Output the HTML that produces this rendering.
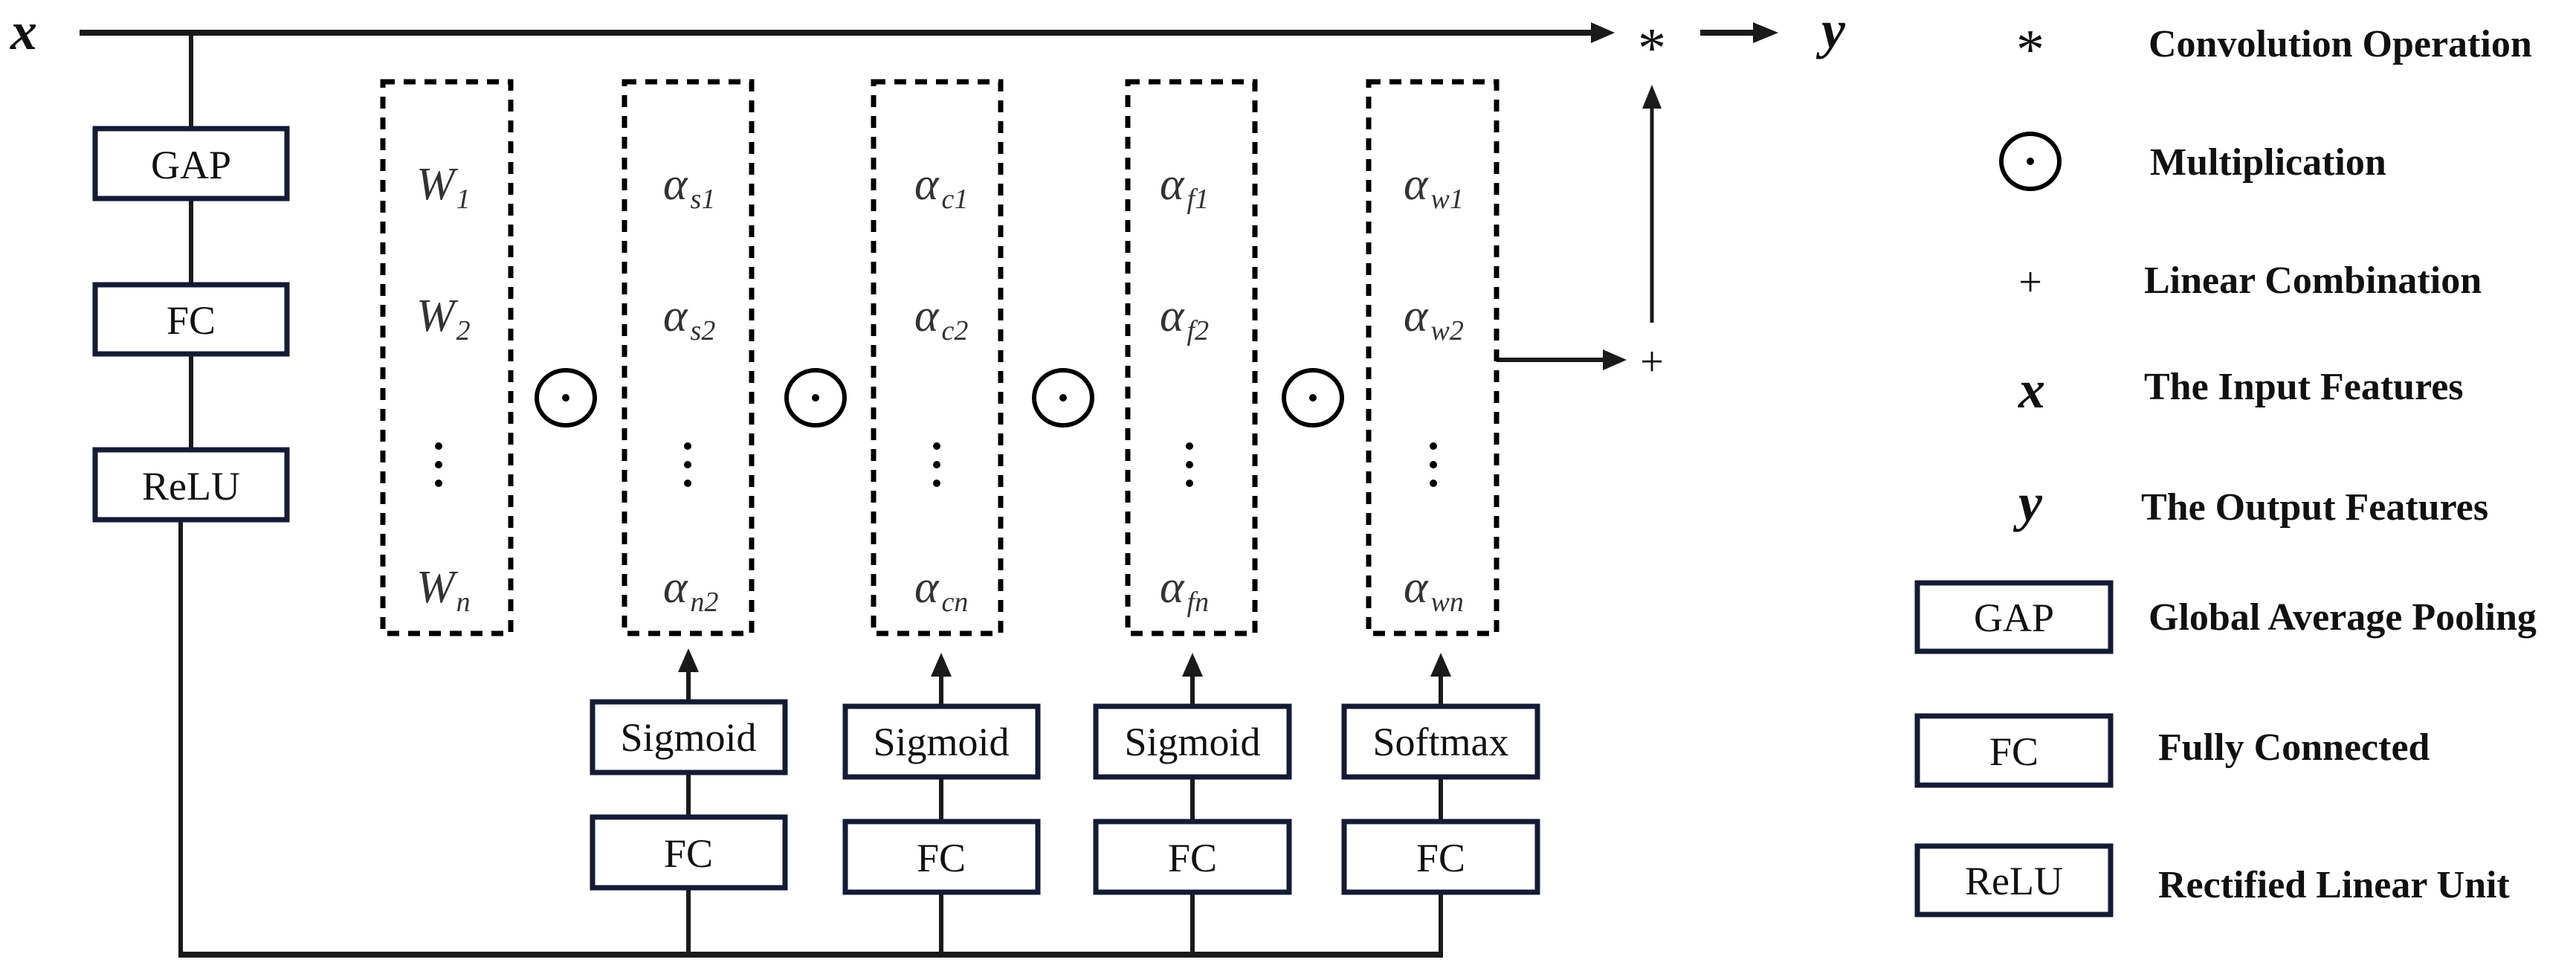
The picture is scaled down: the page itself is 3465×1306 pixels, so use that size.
<!DOCTYPE html>
<html><head><meta charset="utf-8"><style>
html,body{margin:0;padding:0;background:#fff;}
svg{display:block;}
.bx{font-family:"Liberation Serif",serif;font-size:54px;fill:#111;}
.lg{font-family:"Liberation Serif",serif;font-weight:bold;font-size:52px;fill:#111;}
.al{font-family:"Liberation Serif",serif;font-style:italic;font-size:62px;fill:#333;}
.sb{font-size:38px;}
</style></head><body>
<svg width="3465" height="1306" viewBox="0 0 3465 1306" xmlns="http://www.w3.org/2000/svg">
<defs>
<marker id="ah" markerWidth="10" markerHeight="10" refX="9" refY="5" orient="auto" markerUnits="userSpaceOnUse" viewBox="0 0 10 10">
</marker>
</defs>
<g stroke="#1a1a1a" fill="none">
<!-- top line x -->
<line x1="107" y1="44" x2="2140" y2="44" stroke-width="8"/>
<polygon points="2140,30 2172,44 2140,58" fill="#1a1a1a" stroke="none"/>
<line x1="2287" y1="44" x2="2360" y2="44" stroke-width="8"/>
<polygon points="2358,30 2392,44 2358,58" fill="#1a1a1a" stroke="none"/>
<!-- left chain -->
<line x1="257" y1="44" x2="257" y2="604" stroke-width="6"/>
<line x1="243" y1="699" x2="243" y2="1286" stroke-width="6"/>
<line x1="240" y1="1284" x2="1941" y2="1284" stroke-width="8"/>
<!-- branches -->
<line x1="926" y1="1284" x2="926" y2="1040" stroke-width="6"/>
<line x1="926" y1="900" x2="926" y2="943" stroke-width="6"/>
<polygon points="912,904 926,872 940,904" fill="#1a1a1a" stroke="none"/>
<line x1="1266" y1="1284" x2="1266" y2="1045" stroke-width="6"/>
<line x1="1266" y1="905" x2="1266" y2="949" stroke-width="6"/>
<polygon points="1252,910 1266,878 1280,910" fill="#1a1a1a" stroke="none"/>
<line x1="1604" y1="1284" x2="1604" y2="1045" stroke-width="6"/>
<line x1="1604" y1="905" x2="1604" y2="949" stroke-width="6"/>
<polygon points="1590,910 1604,878 1618,910" fill="#1a1a1a" stroke="none"/>
<line x1="1938" y1="1284" x2="1938" y2="1045" stroke-width="6"/>
<line x1="1938" y1="905" x2="1938" y2="949" stroke-width="6"/>
<polygon points="1924,910 1938,878 1952,910" fill="#1a1a1a" stroke="none"/>
<!-- plus arrows -->
<line x1="2013" y1="484" x2="2160" y2="484" stroke-width="6"/>
<polygon points="2156,470 2188,484 2156,498" fill="#1a1a1a" stroke="none"/>
<line x1="2222" y1="434" x2="2222" y2="140" stroke-width="5"/>
<polygon points="2209,146 2222,114 2235,146" fill="#1a1a1a" stroke="none"/>
<!-- dashed boxes -->
<g stroke="#000" stroke-width="7" stroke-dasharray="16,12">
<rect x="515" y="110" width="172" height="742"/>
<rect x="840" y="110" width="171" height="742"/>
<rect x="1175" y="110" width="171" height="742"/>
<rect x="1517" y="110" width="171" height="742"/>
<rect x="1841" y="110" width="172" height="742"/>
</g>
<!-- odots -->
<g stroke="#000" stroke-width="6">
<ellipse cx="761" cy="535" rx="39" ry="37"/>
<ellipse cx="1097" cy="535" rx="39" ry="37"/>
<ellipse cx="1430" cy="535" rx="39" ry="37"/>
<ellipse cx="1766" cy="535" rx="39" ry="37"/>
<ellipse cx="2731" cy="217" rx="39" ry="37"/>
</g>
<!-- solid boxes -->
<g stroke="#151a35" stroke-width="7" fill="#fff">
<rect x="128" y="173" width="258" height="94"/>
<rect x="128" y="383" width="258" height="93"/>
<rect x="128" y="605" width="258" height="94"/>
<rect x="797" y="944" width="259" height="95"/>
<rect x="797" y="1099" width="259" height="95"/>
<rect x="1137" y="950" width="259" height="95"/>
<rect x="1137" y="1105" width="259" height="95"/>
<rect x="1474" y="950" width="260" height="95"/>
<rect x="1474" y="1105" width="260" height="95"/>
<rect x="1808" y="950" width="260" height="95"/>
<rect x="1808" y="1105" width="260" height="95"/>
<rect x="2579" y="784" width="260" height="92"/>
<rect x="2579" y="963" width="260" height="93"/>
<rect x="2579" y="1138" width="260" height="92"/>
</g>
</g>
<g fill="#000">
<circle cx="761" cy="535" r="5"/><circle cx="1097" cy="535" r="5"/><circle cx="1430" cy="535" r="5"/><circle cx="1766" cy="535" r="5"/><circle cx="2731" cy="217" r="5"/>
<circle cx="590" cy="600" r="5"/><circle cx="590" cy="625" r="5"/><circle cx="590" cy="650" r="5"/>
<circle cx="925" cy="600" r="5"/><circle cx="925" cy="625" r="5"/><circle cx="925" cy="650" r="5"/>
<circle cx="1260" cy="600" r="5"/><circle cx="1260" cy="625" r="5"/><circle cx="1260" cy="650" r="5"/>
<circle cx="1600" cy="600" r="5"/><circle cx="1600" cy="625" r="5"/><circle cx="1600" cy="650" r="5"/>
<circle cx="1928" cy="600" r="5"/><circle cx="1928" cy="625" r="5"/><circle cx="1928" cy="650" r="5"/>
</g>
<!-- box texts -->
<g class="bx" text-anchor="middle">
<text x="257" y="240">GAP</text>
<text x="257" y="449">FC</text>
<text x="257" y="672">ReLU</text>
<text x="926" y="1010">Sigmoid</text>
<text x="926" y="1166">FC</text>
<text x="1266" y="1016">Sigmoid</text>
<text x="1266" y="1172">FC</text>
<text x="1604" y="1016">Sigmoid</text>
<text x="1604" y="1172">FC</text>
<text x="1938" y="1016">Softmax</text>
<text x="1938" y="1172">FC</text>
<text x="2709" y="849">GAP</text>
<text x="2709" y="1029">FC</text>
<text x="2709" y="1203">ReLU</text>
</g>
<!-- alpha / W labels -->
<g class="al">
<text x="560" y="268">W<tspan class="sb" dx="2" dy="12">1</tspan></text>
<text x="560" y="445">W<tspan class="sb" dx="2" dy="12">2</tspan></text>
<text x="560" y="810">W<tspan class="sb" dx="2" dy="12">n</tspan></text>
<text x="892" y="268">α<tspan class="sb" dx="4" dy="12">s1</tspan></text>
<text x="892" y="445">α<tspan class="sb" dx="4" dy="12">s2</tspan></text>
<text x="892" y="810">α<tspan class="sb" dx="4" dy="12">n2</tspan></text>
<text x="1230" y="268">α<tspan class="sb" dx="4" dy="12">c1</tspan></text>
<text x="1230" y="445">α<tspan class="sb" dx="4" dy="12">c2</tspan></text>
<text x="1230" y="810">α<tspan class="sb" dx="4" dy="12">cn</tspan></text>
<text x="1560" y="268">α<tspan class="sb" dx="4" dy="12">f1</tspan></text>
<text x="1560" y="445">α<tspan class="sb" dx="4" dy="12">f2</tspan></text>
<text x="1560" y="810">α<tspan class="sb" dx="4" dy="12">fn</tspan></text>
<text x="1888" y="268">α<tspan class="sb" dx="4" dy="12">w1</tspan></text>
<text x="1888" y="445">α<tspan class="sb" dx="4" dy="12">w2</tspan></text>
<text x="1888" y="810">α<tspan class="sb" dx="4" dy="12">wn</tspan></text>
</g>
<!-- symbols -->
<g font-family="Liberation Serif,serif" fill="#111">
<text x="14" y="66" font-size="72" font-style="italic" font-weight="bold">x</text>
<text x="2450" y="64" font-size="72" font-style="italic" font-weight="bold">y</text>
<text x="2222" y="90" font-size="76" text-anchor="middle">*</text>
<text x="2222" y="505" font-size="56" text-anchor="middle">+</text>
<text x="2731" y="92" font-size="76" text-anchor="middle">*</text>
<text x="2731" y="398" font-size="56" text-anchor="middle">+</text>
<text x="2733" y="548" font-size="72" font-style="italic" font-weight="bold" text-anchor="middle">x</text>
<text x="2731" y="700" font-size="72" font-style="italic" font-weight="bold" text-anchor="middle">y</text>
</g>
<g class="lg">
<text x="2890" y="76">Convolution Operation</text>
<text x="2892" y="235">Multiplication</text>
<text x="2884" y="394">Linear Combination</text>
<text x="2884" y="537">The Input  Features</text>
<text x="2880" y="699">The Output  Features</text>
<text x="2890" y="847">Global Average Pooling</text>
<text x="2903" y="1022">Fully Connected</text>
<text x="2903" y="1207">Rectified Linear Unit</text>
</g>
</svg>
</body></html>
